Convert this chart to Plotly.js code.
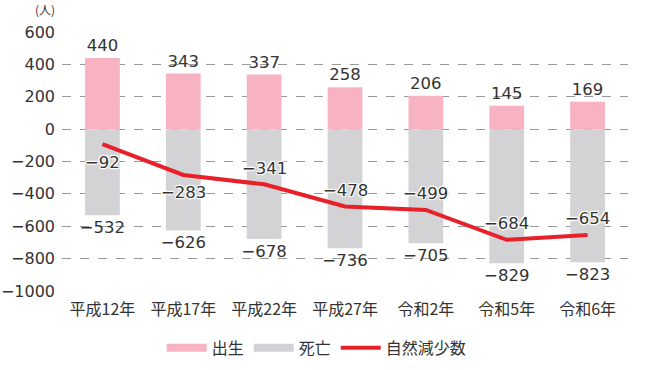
<!DOCTYPE html>
<html><head><meta charset="utf-8">
<script src="https://cdn.plot.ly/plotly-3.0.1.min.js"></script>
<style>html,body{margin:0;padding:0;background:#fff}#chart{width:655px;height:370px}</style>
</head><body><div id="chart"></div>
<script>
const categories = ["平成12年","平成17年","平成22年","平成27年","令和2年","令和5年","令和6年"];
const births = [440, 343, 337, 258, 206, 145, 169];
const deaths = [-532, -626, -678, -736, -705, -829, -823];
const naturalDecrease = [-92, -283, -341, -478, -499, -684, -654];
const tickVals = [600, 400, 200, 0, -200, -400, -600, -800, -1000];

const fmt = v => (v < 0 ? "\u2212" + Math.abs(v) : String(v));
const FONT = '"Noto Sans CJK JP", "Noto Sans", sans-serif';
const NUMFONT = '"DejaVu Sans", "Noto Sans CJK JP", sans-serif';
const pink = "#F7B3C2", gray = "#D3D3D5", red = "#E8202A";
const halo = "1px 1px 1px #fff, -1px -1px 1px #fff, 1px -1px 1px #fff, -1px 1px 1px #fff, 0 0 3px #fff";

const traces = [
  {type: "bar", x: categories, y: births, marker: {color: pink}, text: births.map(fmt),
   textposition: "outside", constraintext: "none", cliponaxis: false,
   textfont: {size: 16.5, color: "#333", family: NUMFONT},
   showlegend: false, hoverinfo: "skip"},
  {type: "bar", x: categories, y: deaths, marker: {color: gray}, text: deaths.map(fmt),
   textposition: "outside", constraintext: "none", cliponaxis: false,
   textfont: {size: 16.5, color: "#333", family: NUMFONT},
   showlegend: false, hoverinfo: "skip"},
  {type: "scatter", mode: "lines", x: categories, y: naturalDecrease, line: {color: red, width: 4},
   showlegend: false, hoverinfo: "skip"},
  {type: "scatter", mode: "lines", x: [null], y: [null], name: "出生", line: {color: pink, width: 8}},
  {type: "scatter", mode: "lines", x: [null], y: [null], name: "死亡", line: {color: gray, width: 8}},
  {type: "scatter", mode: "lines", x: [null], y: [null], name: "自然減少数", line: {color: red, width: 4}}
];

const lineLabels = naturalDecrease.map((v, i) => ({
  x: categories[i], y: v, xref: "x", yref: "y", text: fmt(v), showarrow: false,
  xanchor: "center", yanchor: "middle", yshift: i < 2 ? -18 : 16,
  font: {size: 16.5, color: "#333", family: NUMFONT, shadow: halo}
}));

const layout = {
  width: 655, height: 370,
  margin: {l: 62, r: 27, t: 32, b: 79, autoexpand: false},
  paper_bgcolor: "#fff", plot_bgcolor: "#fff",
  barmode: "relative", bargap: 0.57,
  font: {family: FONT, color: "#333"},
  xaxis: {type: "category", categoryorder: "array", categoryarray: categories,
    showgrid: false, zeroline: false, showline: false, ticks: "", ticklabelstandoff: 7,
    tickfont: {size: 16, color: "#333", family: FONT}},
  yaxis: {range: [-1000, 600], tickvals: tickVals, ticktext: tickVals.map(fmt),
    showgrid: true, gridcolor: "#999", griddash: "dash", gridwidth: 1,
    zeroline: false, showline: false, ticks: "", ticklabelstandoff: 6,
    tickfont: {size: 16, color: "#333", family: NUMFONT}},
  legend: {orientation: "h", x: 0.45, xanchor: "center", yref: "container", y: 0.06, yanchor: "middle",
    font: {size: 16, color: "#333", family: FONT}, itemwidth: 40, traceorder: "normal"},
  annotations: lineLabels.concat([{xref: "paper", yref: "paper", x: -0.03, y: 1.085,
    xanchor: "center", yanchor: "middle",
    text: "(人)", showarrow: false, font: {size: 12, color: "#333", family: FONT}}]),
  showlegend: true
};

Plotly.newPlot("chart", traces, layout, {displayModeBar: false, staticPlot: true});
</script></body></html>
